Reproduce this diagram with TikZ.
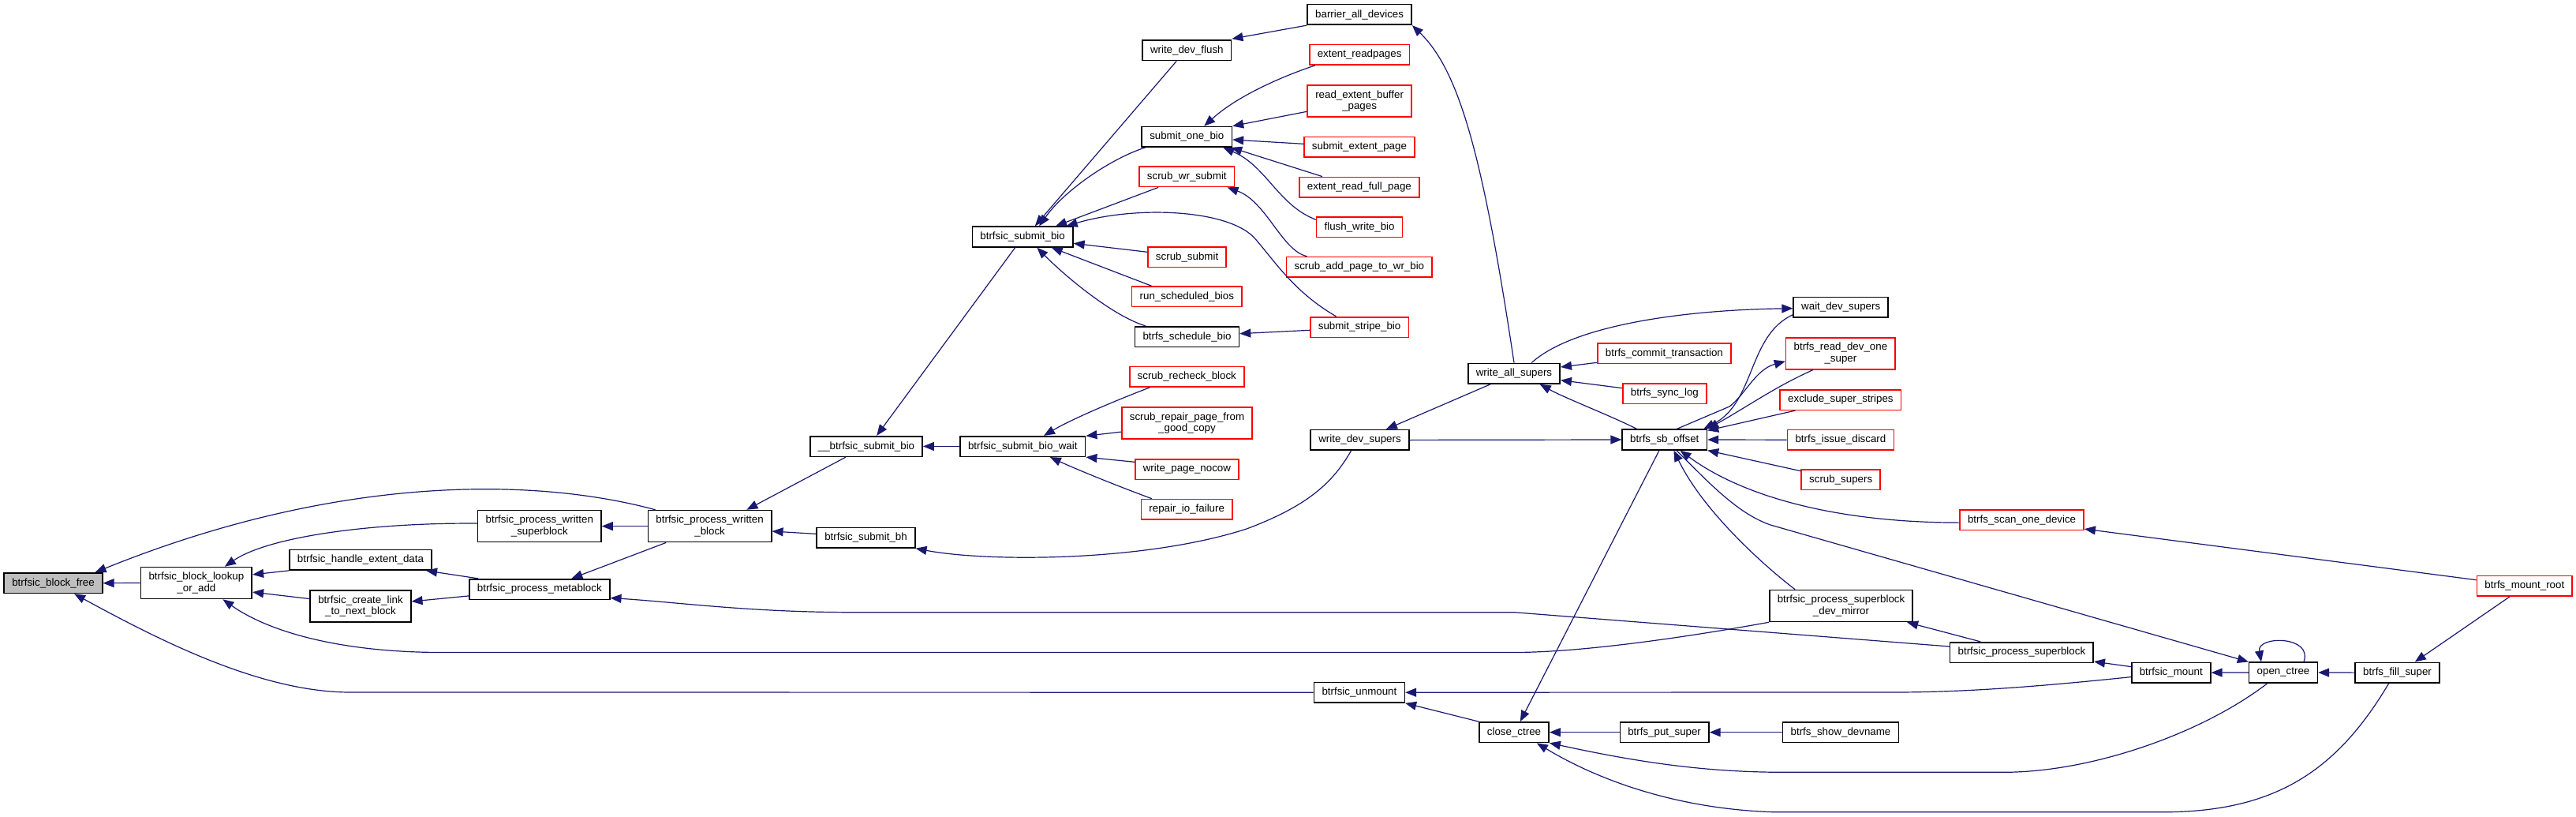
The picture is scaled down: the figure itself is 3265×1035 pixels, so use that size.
\documentclass[tikz,border=0pt]{standalone}
\usepackage{fontspec}
\setmainfont{Liberation Sans}
\usetikzlibrary{arrows.meta}
\definecolor{edgeblue}{RGB}{25,25,112}
\definecolor{rootgray}{RGB}{191,191,191}
\begin{document}
\begin{tikzpicture}[x=1pt,y=-1pt,
  fn/.style={draw=black, fill=white, line width=1.6pt, inner xsep=10pt, inner ysep=2pt,
    minimum height=25.6pt, font=\fontsize{13.33}{14.5}\selectfont, align=center},
  fntwo/.style={fn, minimum height=40pt},
  undoc/.style={draw=red},
  rootnode/.style={fill=rootgray},
  edge/.style={draw=edgeblue, line width=1.2pt, -{Triangle[length=14pt,width=11pt]}}
]
\useasboundingbox (0,0) rectangle (3265,1035);

% nodes
\node[fn,rootnode] (bf) at (67.5,738.7) {btrfsic\_block\_free};
\node[fntwo] (lk) at (248.9,738.5) {btrfsic\_block\_lookup\\\_or\_add};
\node[fn] (hed) at (457,709.3) {btrfsic\_handle\_extent\_data};
\node[fntwo] (cl) at (457,767.8) {btrfsic\_create\_link\\\_to\_next\_block};
\node[fntwo] (ws) at (683.8,666.6) {btrfsic\_process\_written\\\_superblock};
\node[fn] (mb) at (683.8,746.5) {btrfsic\_process\_metablock};
\node[fntwo] (wb) at (899.6,666.6) {btrfsic\_process\_written\\\_block};
\node[fn] (sbiotwo) at (1098,565.5) {\_\_btrfsic\_submit\_bio};
\node[fn] (sbh) at (1097.5,681.1) {btrfsic\_submit\_bh};
\node[fn] (bw) at (1296.3,565.5) {btrfsic\_submit\_bio\_wait};
\node[fn] (bsb) at (1296.1,300) {btrfsic\_submit\_bio};
\node[fn] (wdf) at (1504.3,63.8) {write\_dev\_flush};
\node[fn] (sob) at (1504.3,173.3) {submit\_one\_bio};
\node[fn,undoc] (sws) at (1504.3,223.8) {scrub\_wr\_submit};
\node[fn,undoc] (ss) at (1504.6,325.5) {scrub\_submit};
\node[fn,undoc] (rsb) at (1504.3,375.8) {run\_scheduled\_bios};
\node[fn] (sch) at (1504.5,426.5) {btrfs\_schedule\_bio};
\node[fn,undoc] (srb) at (1504.3,477.2) {scrub\_recheck\_block};
\node[fntwo,undoc] (srp) at (1504.5,535.8) {scrub\_repair\_page\_from\\\_good\_copy};
\node[fn,undoc] (wpn) at (1504.4,594.5) {write\_page\_nocow};
\node[fn,undoc] (rio) at (1504.2,645.3) {repair\_io\_failure};
\node[fn] (bad) at (1723.1,18.5) {barrier\_all\_devices};
\node[fn,undoc] (erp) at (1723.1,69.3) {extent\_readpages};
\node[fntwo,undoc] (rebp) at (1723.1,128) {read\_extent\_buffer\\\_pages};
\node[fn,undoc] (sep) at (1722.9,186.5) {submit\_extent\_page};
\node[fn,undoc] (erfp) at (1722.9,237.2) {extent\_read\_full\_page};
\node[fn,undoc] (fwb) at (1723.1,287.8) {flush\_write\_bio};
\node[fn,undoc] (sap) at (1722.9,338.3) {scrub\_add\_page\_to\_wr\_bio};
\node[fn,undoc] (ssb) at (1723.1,414.5) {submit\_stripe\_bio};
\node[fn] (wds) at (1723.5,557.4) {write\_dev\_supers};
\node[fn] (unm) at (1722.9,877.2) {btrfsic\_unmount};
\node[fn] (was) at (1919,473.2) {write\_all\_supers};
\node[fn] (cc) at (1919,927.7) {close\_ctree};
\node[fn,undoc] (bct) at (2109.4,447.8) {btrfs\_commit\_transaction};
\node[fn,undoc] (bsl) at (2109.9,498.5) {btrfs\_sync\_log};
\node[fn] (sbo) at (2109.8,557) {btrfs\_sb\_offset};
\node[fn] (pus) at (2109.6,927.7) {btrfs\_put\_super};
\node[fn] (wait) at (2333.2,389.2) {wait\_dev\_supers};
\node[fntwo,undoc] (rdos) at (2332.9,447.8) {btrfs\_read\_dev\_one\\\_super};
\node[fn,undoc] (ess) at (2332.9,506.5) {exclude\_super\_stripes};
\node[fn,undoc] (bid) at (2332.9,557.2) {btrfs\_issue\_discard};
\node[fn,undoc] (scs) at (2333.2,607.8) {scrub\_supers};
\node[fntwo] (dm) at (2333.5,767.5) {btrfsic\_process\_superblock\\\_dev\_mirror};
\node[fn] (sdn) at (2333,927.7) {btrfs\_show\_devname};
\node[fn,undoc] (sod) at (2562.6,658.5) {btrfs\_scan\_one\_device};
\node[fn] (psb) at (2562.4,826.5) {btrfsic\_process\_superblock};
\node[fn] (bm) at (2751.8,852.1) {btrfsic\_mount};
\node[fn] (oc) at (2894,852) {open\_ctree};
\node[fn] (fs) at (3038.5,852.1) {btrfs\_fill\_super};
\node[fn,undoc] (mr) at (3199.8,742.4) {btrfs\_mount\_root};

% edges
\draw[edge] (lk.west) -- (bf.east);
\draw[edge] ([xshift=10pt]wb.north west) .. controls (680,605) and (430,600) .. ([xshift=-10pt]bf.north east);
\draw[edge] (unm.west) -- (444,877) .. controls (330,877) and (200,810) .. ([xshift=26.6pt]bf.south);
\draw[edge] (hed.south west) -- ([yshift=10.6pt]lk.east);
\draw[edge] ([yshift=9.2pt]cl.west) -- ([yshift=-11.6pt]lk.east);
\draw[edge] ([yshift=3.5pt]ws.west) .. controls (470,662) and (340,680) .. ([xshift=36pt]lk.north);
\draw[edge] (dm.south west) .. controls (2150,805) and (2010,826.5) .. (1919,826.5) -- (560,826.5) .. controls (430,826.5) and (340,800) .. ([xshift=33.5pt]lk.south);
\draw[edge] ([yshift=7.5pt]psb.west) -- (1919,775.7) -- (1082,775.7) .. controls (950,775.7) and (860,763) .. ([yshift=-11pt]mb.east);
\draw[edge] ([xshift=12pt]mb.north west) -- ([xshift=-7.8pt]hed.south east);
\draw[edge] ([yshift=-8.4pt]mb.west) -- ([yshift=5.8pt]cl.east);
\draw[edge] (wb.west) -- (ws.east);
\draw[edge] ([xshift=23.6pt]wb.south west) -- ([xshift=40.5pt]mb.north);
\draw[edge] ([xshift=-26pt]sbiotwo.south) -- ([xshift=46.8pt]wb.north);
\draw[edge] ([yshift=4.7pt]sbh.west) -- ([yshift=-6.4pt]wb.east);
\draw[edge] (bw.west) -- (sbiotwo.east);
\draw[edge] ([xshift=-9.4pt]bsb.south) -- ([xshift=13.2pt]sbiotwo.north);
\draw[edge] ([xshift=26.6pt]srb.south west) .. controls (1420,505) and (1360,530) .. ([xshift=26.7pt]bw.north);
\draw[edge] ([yshift=-11.3pt]srp.west) -- ([yshift=-0.4pt]bw.north east);
\draw[edge] ([yshift=9.2pt]wpn.west) -- (bw.south east);
\draw[edge] ([xshift=14.2pt]rio.north west) .. controls (1420,617) and (1370,597) .. ([xshift=34.5pt]bw.south);
\draw[edge] ([xshift=-11pt]wds.south) .. controls (1690,610) and (1660,640) .. (1580,670) .. controls (1450,712) and (1250,712) .. (sbh.south east);
\draw[edge] ([xshift=-13.1pt]wdf.south) -- ([xshift=15.7pt]bsb.north);
\draw[edge] ([xshift=5.2pt]sob.south west) .. controls (1410,200) and (1350,240) .. ([xshift=21pt]bsb.north);
\draw[edge] ([xshift=25pt]sws.south west) -- ([xshift=42pt]bsb.north);
\draw[edge] ([xshift=-29.5pt]ssb.north) .. controls (1640,370) and (1615,330) .. (1591.6,303.3) .. controls (1560,265) and (1440,260) .. ([xshift=-9pt]bsb.north east);
\draw[edge] ([yshift=6.2pt]ss.west) -- ([yshift=-8.3pt]bsb.east);
\draw[edge] ([xshift=25.6pt]rsb.north west) -- ([xshift=36.6pt]bsb.south);
\draw[edge] ([xshift=14.1pt]sch.north west) .. controls (1410,400) and (1350,350) .. ([xshift=18.3pt]bsb.south);
\draw[edge] ([yshift=-3.8pt]ssb.west) -- ([yshift=3.8pt]sch.east);
\draw[edge] (bad.south west) -- ([yshift=1pt]wdf.north east);
\draw[edge] ([xshift=7.9pt]erp.south west) .. controls (1630,95) and (1570,120) .. ([xshift=21.9pt]sob.north);
\draw[edge] ([yshift=-13.3pt]rebp.west) -- (sob.north east);
\draw[edge] ([yshift=4.2pt]sep.west) -- ([yshift=-3.7pt]sob.east);
\draw[edge] ([xshift=29.8pt]erfp.north west) -- ([xshift=-2pt]sob.south east);
\draw[edge] ([yshift=9.5pt]fwb.west) .. controls (1620,260) and (1605,210) .. ([xshift=-12pt]sob.south east);
\draw[edge] ([xshift=26.7pt]sap.north west) .. controls (1625,318) and (1605,255) .. ([xshift=-10pt]sws.south east);
\draw[edge] (was.north) .. controls (1880,200) and (1850,90) .. (bad.south east);
\draw[edge] ([xshift=-30pt]was.south) -- ([xshift=33.4pt]wds.north);
\draw[edge] (wds.east) -- (sbo.west);
\draw[edge] ([yshift=-11.5pt]bct.west) -- ([yshift=8.2pt]was.east);
\draw[edge] ([yshift=6.8pt]bsl.west) -- ([yshift=-8.5pt]was.east);
\draw[edge] ([xshift=-35.2pt]sbo.north) .. controls (2040,526) and (1985,505) .. ([xshift=32.7pt]was.south);
\draw[edge] ([xshift=22.2pt]was.north) .. controls (1990,415) and (2120,393) .. ([yshift=-1.5pt]wait.west);
\draw[edge] ([yshift=-9.5pt]wait.west) .. controls (2215,425) and (2225,510) .. ([xshift=-5pt]sbo.north east);
\draw[edge] ([xshift=15.5pt]sbo.north) -- (2192,515) .. controls (2212,500) and (2225,468) .. ([yshift=-9.9pt]rdos.west);
\draw[edge] ([xshift=-35pt]rdos.south) .. controls (2250,490) and (2215,515) .. (sbo.north east);
\draw[edge] ([xshift=20pt]ess.south west) -- ([yshift=-2pt]sbo.north east);
\draw[edge] (bid.west) -- (sbo.east);
\draw[edge] ([yshift=11.1pt]scs.west) -- (sbo.south east);
\draw[edge] ([yshift=-3.6pt]sod.west) .. controls (2330,662) and (2210,630) .. ([xshift=19.7pt]sbo.south);
\draw[edge] ([xshift=15pt]sbo.south) .. controls (2160,605) and (2200,650) .. (2244,665) -- (oc.north west);
\draw[edge] ([xshift=-6.8pt]sbo.south) -- ([xshift=7.8pt]cc.north);
\draw[edge] ([xshift=-58.4pt]dm.north) .. controls (2240,720) and (2160,650) .. ([xshift=11.6pt]sbo.south);
\draw[edge] ([yshift=-5.5pt]bm.west) .. controls (2600,868) and (2500,877) .. (2400,877) -- (unm.east);
\draw[edge] (cc.north west) -- (unm.south east);
\draw[edge] (pus.west) -- (cc.east);
\draw[edge] (sdn.west) -- (pus.east);
\draw[edge] ([xshift=-20pt]oc.south) .. controls (2790,930) and (2650,978.3) .. (2540,978.3) -- (2260,978.3) .. controls (2150,978.3) and (2060,962) .. (cc.south east);
\draw[edge] ([xshift=-10.8pt]fs.south) .. controls (2960,980) and (2880,1028.8) .. (2740,1028.8) -- (2250,1028.8) .. controls (2120,1025) and (2020,985) .. ([xshift=28.8pt]cc.south);
\draw[edge] (oc.west) -- (bm.east);
\draw[edge] (fs.west) -- (oc.east);
\draw[edge] ([xshift=26pt]oc.north) .. controls (2932,805) and (2860,805) .. ([xshift=-28pt]oc.north);
\draw[edge] ([yshift=7.5pt]bm.west) -- ([yshift=2pt]psb.south east);
\draw[edge] ([yshift=7.7pt]mr.west) -- ([yshift=2pt]sod.south east);
\draw[edge] ([xshift=-19pt]mr.south) -- ([xshift=22.3pt]fs.north);
\draw[edge] ([xshift=39.4pt]psb.north west) -- ([xshift=-8pt]dm.south east);
\end{tikzpicture}
\end{document}
